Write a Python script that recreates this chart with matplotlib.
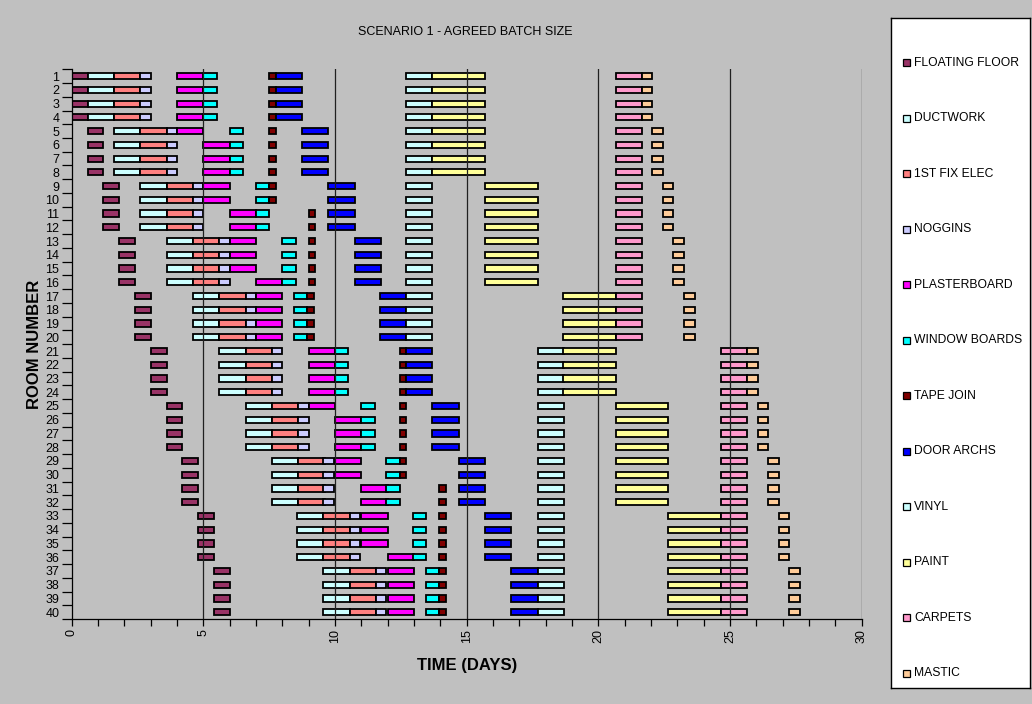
import numpy as np
import matplotlib.pyplot as plt

# rooms 1..40, worked in batches of 4
rooms = np.arange(1, 41)

tasks = ['FLOATING FLOOR', 'DUCTWORK', '1ST FIX ELEC', 'NOGGINS', 'PLASTERBOARD',
         'WINDOW BOARDS', 'TAPE JOIN', 'DOOR ARCHS', 'VINYL', 'PAINT', 'CARPETS', 'MASTIC']
durations = [0.6, 1.0, 1.0, 0.4, 1.0, 0.5, 0.25, 1.0, 1.0, 2.0, 1.0, 0.4]
colors = ['#993366', '#CCFFFF', '#FF8080', '#CCCCFF', '#FF00FF', '#00FFFF',
          '#800000', '#0000FF', '#CCFFFF', '#FFFF99', '#FF99CC', '#FFCC99']

# start day of each task, one value per room
floating_floor = [0.0, 0.0, 0.0, 0.0, 0.6, 0.6, 0.6, 0.6, 1.2, 1.2, 1.2, 1.2, 1.8, 1.8, 1.8, 1.8,
                  2.4, 2.4, 2.4, 2.4, 3.0, 3.0, 3.0, 3.0, 3.6, 3.6, 3.6, 3.6, 4.2, 4.2, 4.2, 4.2,
                  4.8, 4.8, 4.8, 4.8, 5.4, 5.4, 5.4, 5.4]
ductwork = [0.6, 0.6, 0.6, 0.6, 1.6, 1.6, 1.6, 1.6, 2.6, 2.6, 2.6, 2.6, 3.6, 3.6, 3.6, 3.6,
            4.6, 4.6, 4.6, 4.6, 5.6, 5.6, 5.6, 5.6, 6.6, 6.6, 6.6, 6.6, 7.6, 7.6, 7.6, 7.6,
            8.55, 8.55, 8.55, 8.55, 9.55, 9.55, 9.55, 9.55]
first_fix = [1.6, 1.6, 1.6, 1.6, 2.6, 2.6, 2.6, 2.6, 3.6, 3.6, 3.6, 3.6, 4.6, 4.6, 4.6, 4.6,
             5.6, 5.6, 5.6, 5.6, 6.6, 6.6, 6.6, 6.6, 7.6, 7.6, 7.6, 7.6, 8.6, 8.6, 8.6, 8.6,
             9.55, 9.55, 9.55, 9.55, 10.55, 10.55, 10.55, 10.55]
noggins = [2.6, 2.6, 2.6, 2.6, 3.6, 3.6, 3.6, 3.6, 4.6, 4.6, 4.6, 4.6, 5.6, 5.6, 5.6, 5.6,
           6.6, 6.6, 6.6, 6.6, 7.6, 7.6, 7.6, 7.6, 8.6, 8.6, 8.6, 8.6, 9.55, 9.55, 9.55, 9.55,
           10.55, 10.55, 10.55, 10.55, 11.55, 11.55, 11.55, 11.55]
plasterboard = [4.0, 4.0, 4.0, 4.0, 4.0, 5.0, 5.0, 5.0, 5.0, 5.0, 6.0, 6.0, 6.0, 6.0, 6.0, 7.0,
                7.0, 7.0, 7.0, 7.0, 9.0, 9.0, 9.0, 9.0, 9.0, 10.0, 10.0, 10.0, 10.0, 10.0, 11.0, 11.0,
                11.0, 11.0, 11.0, 12.0, 12.0, 12.0, 12.0, 12.0]
window_boards = [5.0, 5.0, 5.0, 5.0, 6.0, 6.0, 6.0, 6.0, 7.0, 7.0, 7.0, 7.0, 8.0, 8.0, 8.0, 8.0,
                 8.45, 8.45, 8.45, 8.45, 10.0, 10.0, 10.0, 10.0, 11.0, 11.0, 11.0, 11.0,
                 11.95, 11.95, 11.95, 11.95, 12.95, 12.95, 12.95, 12.95, 13.45, 13.45, 13.45, 13.45]
tape_join = [7.5, 7.5, 7.5, 7.5, 7.5, 7.5, 7.5, 7.5, 7.5, 7.5, 9.0, 9.0, 9.0, 9.0, 9.0, 9.0,
             8.95, 8.95, 8.95, 8.95, 12.45, 12.45, 12.45, 12.45, 12.45, 12.45, 12.45, 12.45,
             12.45, 12.45, 13.95, 13.95, 13.95, 13.95, 13.95, 13.95, 13.95, 13.95, 13.95, 13.95]
door_archs = [7.75, 7.75, 7.75, 7.75, 8.75, 8.75, 8.75, 8.75, 9.75, 9.75, 9.75, 9.75,
              10.75, 10.75, 10.75, 10.75, 11.7, 11.7, 11.7, 11.7, 12.7, 12.7, 12.7, 12.7,
              13.7, 13.7, 13.7, 13.7, 14.7, 14.7, 14.7, 14.7, 15.7, 15.7, 15.7, 15.7,
              16.7, 16.7, 16.7, 16.7]
vinyl = [12.7, 12.7, 12.7, 12.7, 12.7, 12.7, 12.7, 12.7, 12.7, 12.7, 12.7, 12.7, 12.7, 12.7,
         12.7, 12.7, 12.7, 12.7, 12.7, 12.7, 17.7, 17.7, 17.7, 17.7, 17.7, 17.7, 17.7, 17.7,
         17.7, 17.7, 17.7, 17.7, 17.7, 17.7, 17.7, 17.7, 17.7, 17.7, 17.7, 17.7]
paint = [13.7, 13.7, 13.7, 13.7, 13.7, 13.7, 13.7, 13.7, 15.7, 15.7, 15.7, 15.7, 15.7, 15.7,
         15.7, 15.7, 18.65, 18.65, 18.65, 18.65, 18.65, 18.65, 18.65, 18.65, 20.65, 20.65,
         20.65, 20.65, 20.65, 20.65, 20.65, 20.65, 22.65, 22.65, 22.65, 22.65, 22.65, 22.65,
         22.65, 22.65]
carpets = [20.65, 20.65, 20.65, 20.65, 20.65, 20.65, 20.65, 20.65, 20.65, 20.65, 20.65, 20.65,
           20.65, 20.65, 20.65, 20.65, 20.65, 20.65, 20.65, 20.65, 24.65, 24.65, 24.65, 24.65,
           24.65, 24.65, 24.65, 24.65, 24.65, 24.65, 24.65, 24.65, 24.65, 24.65, 24.65, 24.65,
           24.65, 24.65, 24.65, 24.65]
mastic = [21.65, 21.65, 21.65, 21.65, 22.05, 22.05, 22.05, 22.05, 22.45, 22.45, 22.45, 22.45,
          22.85, 22.85, 22.85, 22.85, 23.25, 23.25, 23.25, 23.25, 25.65, 25.65, 25.65, 25.65,
          26.05, 26.05, 26.05, 26.05, 26.45, 26.45, 26.45, 26.45, 26.85, 26.85, 26.85, 26.85,
          27.25, 27.25, 27.25, 27.25]

starts = [floating_floor, ductwork, first_fix, noggins, plasterboard, window_boards,
          tape_join, door_archs, vinyl, paint, carpets, mastic]

plt.rcParams['font.family'] = ['Liberation Sans', 'DejaVu Sans']
GREY = '#C0C0C0'

fig = plt.figure(figsize=(10.32, 7.04), dpi=100, facecolor=GREY)
ax = fig.add_axes([0.0695, 0.1207, 0.7655, 0.7809], facecolor=GREY)

# gantt bars
for name, dur, col, st in zip(tasks, durations, colors, starts):
    ax.barh(rooms, dur, left=st, height=0.45, color=col, edgecolor='black',
            linewidth=1.3, zorder=2)

# vertical gridlines every 5 days (drawn over the bars)
for d in range(5, 31, 5):
    ax.axvline(d, color='#202020', linewidth=0.9, zorder=3)

ax.set_xlim(0, 30)
ax.set_ylim(40.5, 0.5)
ax.set_xticks(range(0, 31, 5))
ax.set_xticks(range(0, 31), minor=True)
ax.set_yticks(rooms)
ax.set_yticklabels([str(r) for r in rooms])
ax.set_yticks(np.arange(0.5, 41, 1), minor=True)
ax.tick_params(axis='x', which='both', direction='out', length=5, width=0.9,
               labelsize=9, labelrotation=90, pad=2)
ax.tick_params(axis='y', which='major', length=0, labelsize=9, pad=9)
ax.tick_params(axis='y', which='minor', length=7, width=0.9, direction='out')
for s in ['top', 'right']:
    ax.spines[s].set_visible(False)
for s in ['left', 'bottom']:
    ax.spines[s].set_linewidth(0.9)

ax.set_xlabel('TIME (DAYS)', fontsize=12, fontweight='bold', labelpad=11)
ax.set_ylabel('ROOM NUMBER', fontsize=12, fontweight='bold', labelpad=2)
fig.text(0.451, 0.954, 'SCENARIO 1 - AGREED BATCH SIZE', ha='center', va='center',
         fontsize=9)

# legend box on the right, drawn by hand to keep the wide spacing
lax = fig.add_axes([0.8634, 0.0227, 0.1347, 0.9517], facecolor='white')
lax.set_xlim(0, 139)
lax.set_ylim(670, 0)
lax.set_xticks([])
lax.set_yticks([])
for s in lax.spines.values():
    s.set_linewidth(1.0)
for i, (name, col) in enumerate(zip(tasks, colors)):
    y = 44.5 + i * 55.5
    lax.add_patch(plt.Rectangle((12, y - 3.5), 7, 7, facecolor=col, edgecolor='black',
                                linewidth=0.9))
    lax.text(23, y, name, va='center', ha='left', fontsize=8.7)

fig.savefig('out.png', dpi=100, facecolor=GREY)
